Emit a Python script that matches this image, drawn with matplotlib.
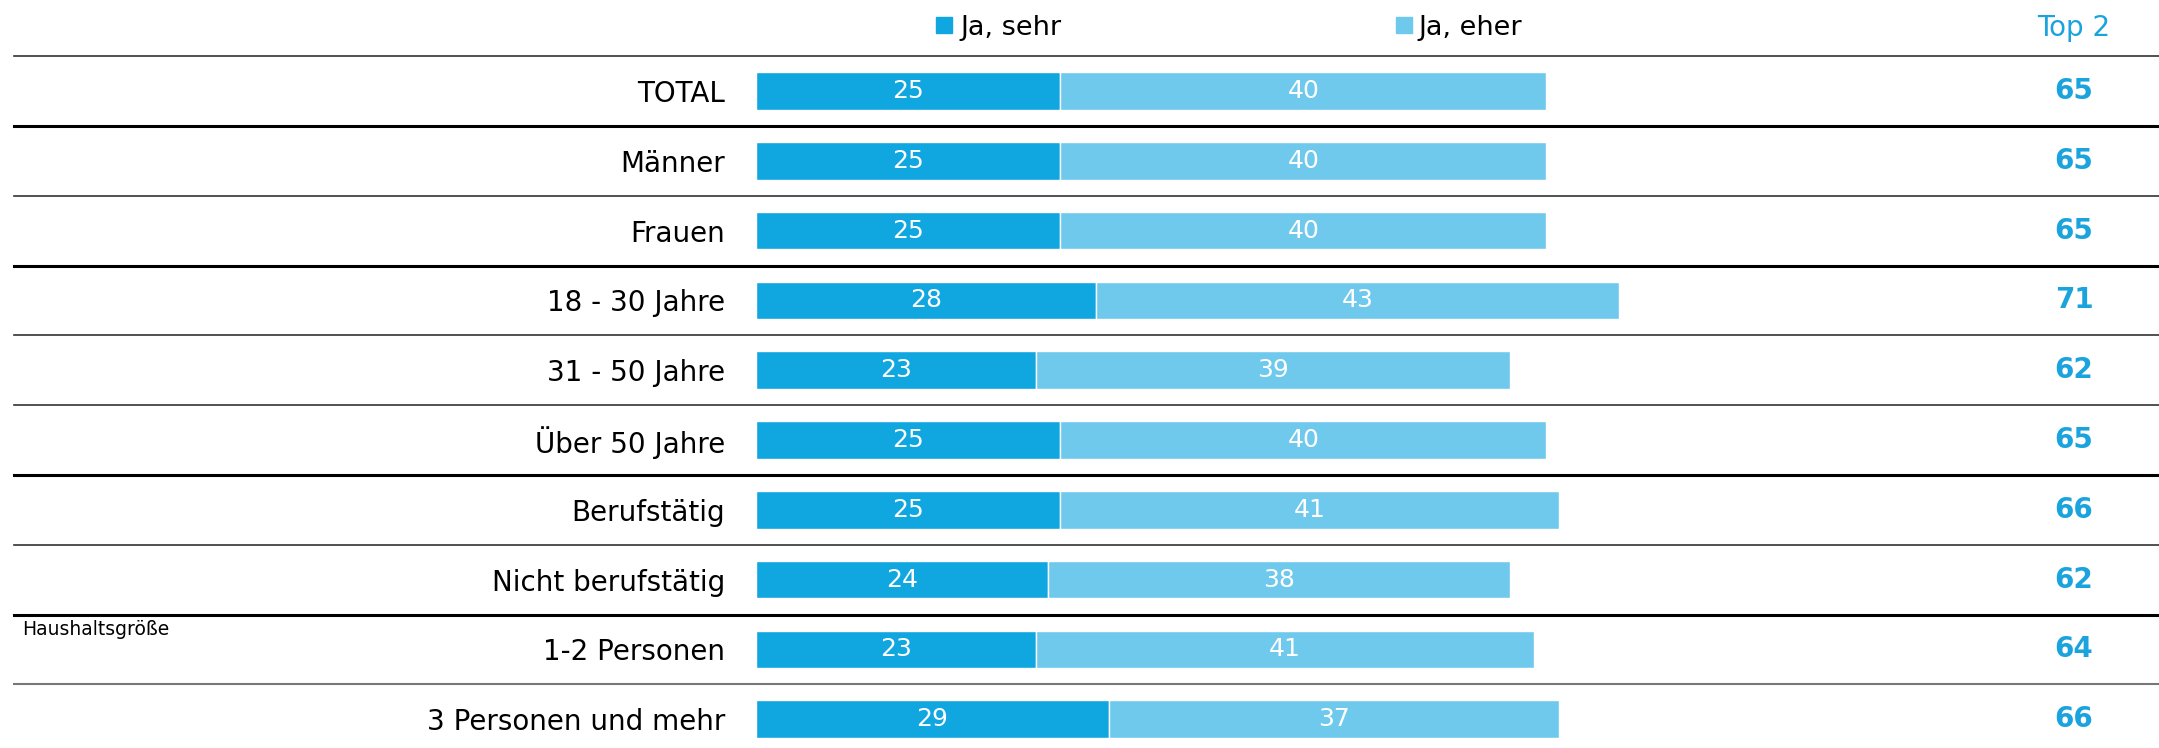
import matplotlib
matplotlib.use('Agg')
from matplotlib import pyplot as plt

groups = ['TOTAL', 'Männer', 'Frauen', '18 - 30 Jahre', '31 - 50 Jahre',
          'Über 50 Jahre', 'Berufstätig', 'Nicht berufstätig', '1-2 Personen',
          '3 Personen und mehr']
ja_sehr = [25, 25, 25, 28, 23, 25, 25, 24, 23, 29]
ja_eher = [40, 40, 40, 43, 39, 40, 41, 38, 41, 37]
top2 = [65, 65, 65, 71, 62, 65, 66, 62, 64, 66]
thick_after = [0, 2, 5, 7]

dark = '#10a6e0'
light = '#6fc9ed'
blue_txt = '#1aa3dc'

plt.rcParams['font.family'] = ['DejaVu Sans']

W, H = 2159, 748
fig = plt.figure(figsize=(W / 100, H / 100), dpi=100)
ax = fig.add_axes([0, 0, 1, 1])

x0_px, unit_px = 756, 12.16
row0_px, row_px = 91, 69.8
ax.set_xlim(-x0_px / unit_px, (W - x0_px) / unit_px)
ax.set_ylim((H - row0_px) / row_px, -row0_px / row_px)
ax.axis('off')

y = list(range(len(groups)))
ax.barh(y, ja_sehr, height=0.54, color=dark, edgecolor='white', linewidth=1)
ax.barh(y, ja_eher, left=ja_sehr, height=0.54, color=light, edgecolor='white', linewidth=1)

label_x = -(x0_px - 725) / unit_px
top_x = (2074 - x0_px) / unit_px
for i, g in enumerate(groups):
    ax.text(label_x, i, g, ha='right', va='center_baseline', fontsize=20, color='black')
    ax.text(ja_sehr[i] / 2, i, str(ja_sehr[i]), ha='center', va='center',
            fontsize=18, color='white')
    ax.text(ja_sehr[i] + ja_eher[i] / 2, i, str(ja_eher[i]), ha='center',
            va='center', fontsize=18, color='white')
    ax.text(top_x, i, str(top2[i]), ha='center', va='center', fontsize=20,
            color=blue_txt, fontweight='bold')

# separator lines
for i in range(-1, len(groups) - 1):
    if i in thick_after:
        ax.axhline(i + 0.5, xmin=14 / W, xmax=1, color='black', linewidth=2.2)
    elif i == len(groups) - 2:
        ax.axhline(i + 0.5, xmin=14 / W, xmax=1, color='#777777', linewidth=1.5)
    else:
        ax.axhline(i + 0.5, xmin=14 / W, xmax=1, color='#333333', linewidth=1.2)

# legend and header
leg_y = (25 - row0_px) / row_px
for mx, tx, lab, col in [(944, 960, 'Ja, sehr', dark), (1404, 1418, 'Ja, eher', light)]:
    ax.plot((mx - x0_px) / unit_px, leg_y, marker='s', markersize=11, color=col,
            linestyle='none')
    ax.text((tx - x0_px) / unit_px, leg_y, lab, ha='left', va='center_baseline',
            fontsize=19.5, color='black')
ax.text(top_x, leg_y, 'Top 2', ha='center', va='center_baseline', fontsize=20,
        color=blue_txt)

ax.text(22 / W, 1 - 635 / H, 'Haushaltsgröße', transform=ax.transAxes,
        ha='left', va='baseline', fontsize=13.5, color='black')

fig.savefig('out.png', dpi=100)
